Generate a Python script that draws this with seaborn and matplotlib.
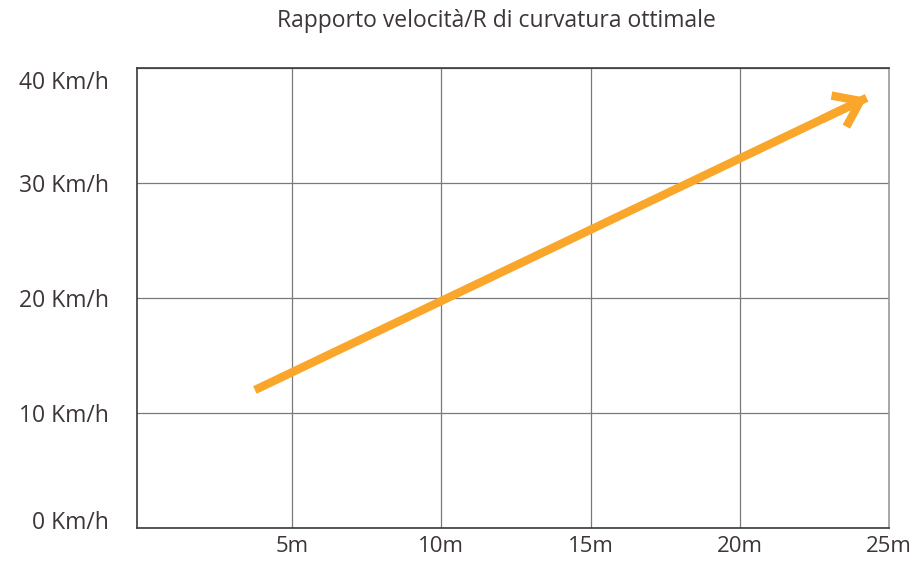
import matplotlib
matplotlib.use("Agg")
import matplotlib.pyplot as plt
import matplotlib.transforms as mtransforms
import seaborn as sns
import pandas as pd

# Curve radius (m) and optimal speed (km/h) at the two ends of the trend arrow
raggio_m = [3.75, 24.25]
velocita_kmh = [12.0, 37.4]

x_ticks = [5, 10, 15, 20, 25]
x_labels = ["5m", "10m", "15m", "20m", "25m"]
y_ticks = [0, 10, 20, 30, 40]
y_labels = ["0 Km/h", "10 Km/h", "20 Km/h", "30 Km/h", "40 Km/h"]
title = "Rapporto velocità/R di curvatura ottimale"

ORANGE = "#F9A62B"
TEXT = "#3d3538"

sns.set_theme(style="white")
plt.rcParams["font.family"] = ["Open Sans", "DejaVu Sans"]

df = pd.DataFrame({"raggio": raggio_m, "velocita": velocita_kmh})

fig = plt.figure(figsize=(9.16, 5.61), dpi=100)
ax = fig.add_axes([137 / 916, 1 - 528 / 561, (889 - 137) / 916, (528 - 68) / 561])

sns.lineplot(data=df, x="raggio", y="velocita", ax=ax, color=ORANGE,
             linewidth=6, solid_capstyle="butt", zorder=3)

# Open chevron head at the end of the trend line
ax.annotate("", xy=(raggio_m[1], velocita_kmh[1]),
            xytext=(raggio_m[1] - 1.5, velocita_kmh[1] - 1.86),
            arrowprops=dict(arrowstyle="->,head_length=0.85,head_width=0.62",
                            color=ORANGE, lw=6, mutation_scale=20,
                            shrinkA=0, shrinkB=0, joinstyle="miter",
                            capstyle="butt"),
            zorder=4)

ax.set_xlim(-0.2, 25)
ax.set_ylim(0, 40)
ax.set_xticks(x_ticks)
ax.set_xticklabels(x_labels)
ax.set_yticks(y_ticks)
ax.set_yticklabels(y_labels)
ax.set_xlabel("")
ax.set_ylabel("")

ax.grid(True, color="#7a7a7a", linewidth=0.9)
ax.set_axisbelow(True)
for side in ["top", "left", "bottom"]:
    ax.spines[side].set_color("#3a3a3a")
    ax.spines[side].set_linewidth(1.2)
ax.spines["right"].set_color("#9a9a9a")
ax.spines["right"].set_linewidth(1.2)

ax.tick_params(axis="both", length=0, labelsize=16.5, labelcolor=TEXT)
ax.tick_params(axis="y", pad=20)
ax.tick_params(axis="x", pad=6, labelsize=16)

# Keep the outer speed labels inside the frame height
ylabs = ax.get_yticklabels()
ylabs[0].set_transform(ylabs[0].get_transform() +
                       mtransforms.ScaledTranslation(0, 8 / 100, fig.dpi_scale_trans))
ylabs[-1].set_transform(ylabs[-1].get_transform() +
                        mtransforms.ScaledTranslation(0, -12 / 100, fig.dpi_scale_trans))

fig.text(496 / 916, 1 - 21 / 561, title, ha="center", va="center",
         fontsize=16.5, color=TEXT)

fig.savefig("out.png", dpi=100, facecolor="white")
